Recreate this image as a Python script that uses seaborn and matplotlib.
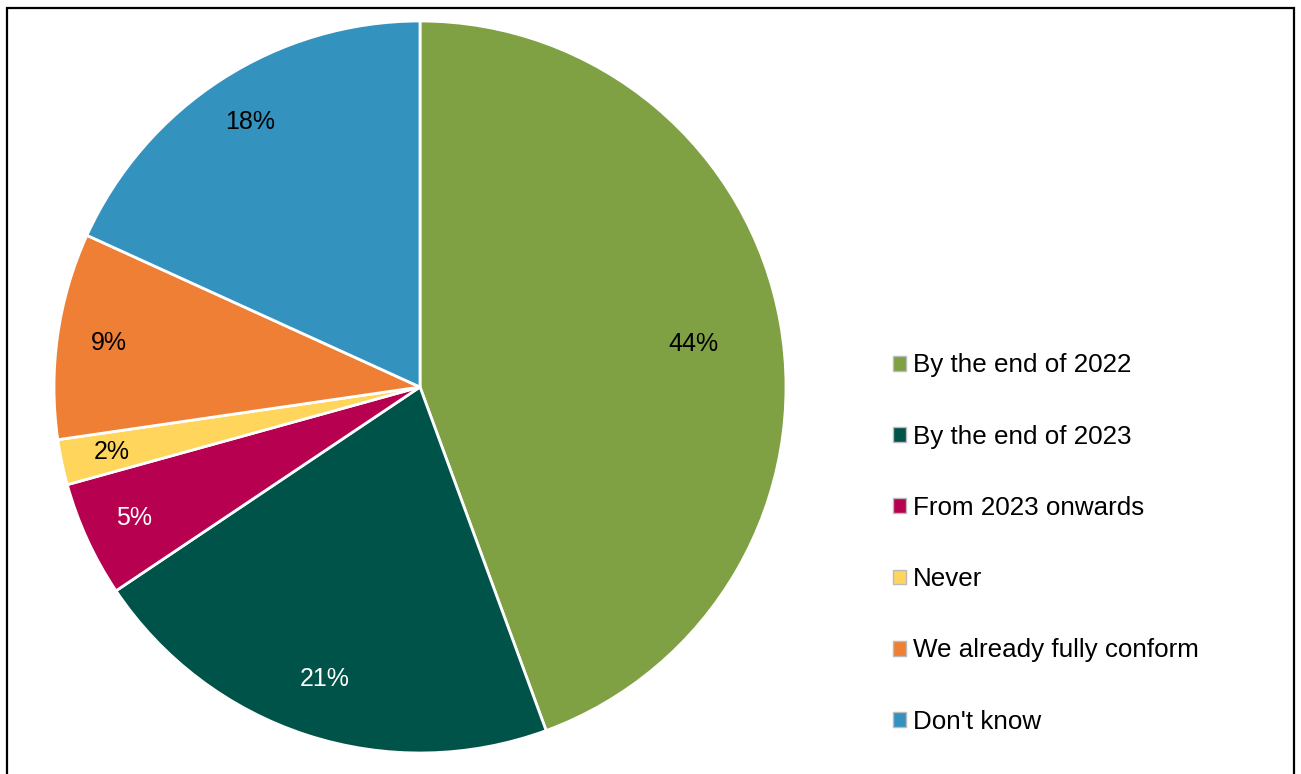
import matplotlib
matplotlib.use("Agg")
import matplotlib.pyplot as plt
import seaborn as sns
from matplotlib.patches import Patch, Rectangle

categories = ["By the end of 2022", "By the end of 2023", "From 2023 onwards",
              "Never", "We already fully conform", "Don't know"]
values = [44.4, 21.2, 5.1, 2.0, 9.1, 18.2]
colors = ["#7FA043", "#005348", "#B80050", "#FFD55B", "#EE7F34", "#3492BF"]
label_colors = ["black", "white", "white", "black", "black", "black"]

sns.set_theme(style="white")
plt.rcParams["font.family"] = ["Liberation Sans", "DejaVu Sans"]
plt.rcParams["text.color"] = "black"

fig = plt.figure(figsize=(13.01, 7.74), dpi=100)
ax = fig.add_axes([54 / 1301, 21 / 774, 732 / 1301, 732 / 774])

wedges, texts, autotexts = ax.pie(
    values, colors=colors, startangle=90, counterclock=False,
    autopct="%.0f%%", pctdistance=0.86,
    wedgeprops=dict(edgecolor="white", linewidth=2),
    textprops=dict(fontsize=18),
)
for t, c in zip(autotexts, label_colors):
    t.set_color(c)
# first labels sit closer to centre
x, y = autotexts[0].get_position()
autotexts[0].set_position((x * 0.76 / 0.86, y * 0.76 / 0.86 - 0.015))
x, y = autotexts[1].get_position()
autotexts[1].set_position((x * 0.84 / 0.86, y * 0.84 / 0.86))
ax.set_aspect("equal")
ax.set_xlim(-1, 1)
ax.set_ylim(-1, 1)
ax.axis("off")

handles = [Patch(facecolor=c, edgecolor="#bbbbbb", linewidth=1) for c in colors]
leg = fig.legend(handles, categories, loc="center left",
                 bbox_to_anchor=(893 / 1301, (774 - 543.5) / 774),
                 frameon=False, fontsize=18.7, handlelength=0.5, handleheight=0.5,
                 handletextpad=0.27, labelspacing=1.82, borderpad=0, borderaxespad=0)
for t in leg.get_texts():
    t.set_color("black")

fig.add_artist(Rectangle((6.5 / 1301, -0.02), (1293.5 - 6.5) / 1301, 1 - 7.5 / 774 + 0.02,
                         transform=fig.transFigure, fill=False, edgecolor="black",
                         linewidth=1.6))

fig.savefig("out.png", dpi=100)
